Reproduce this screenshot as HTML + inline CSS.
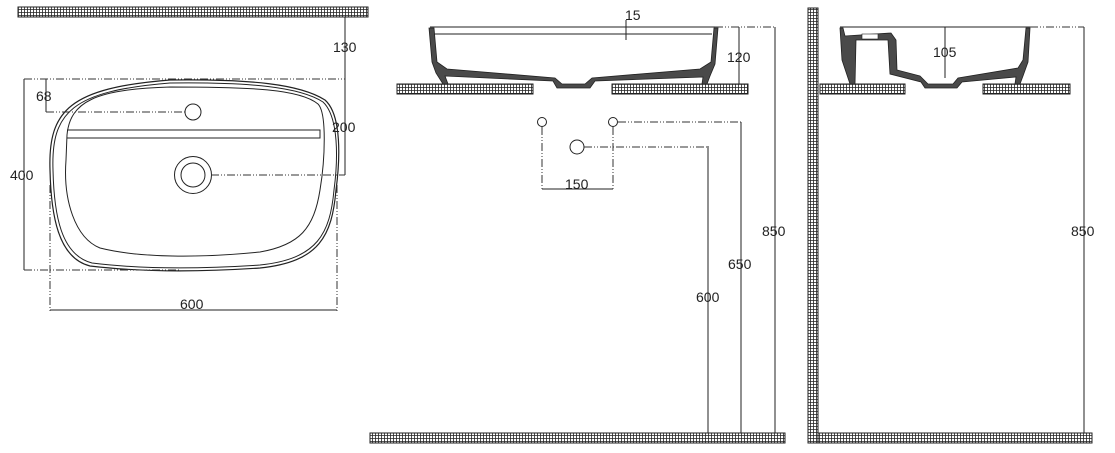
<!DOCTYPE html>
<html><head><meta charset="utf-8"><style>
html,body{margin:0;padding:0;background:#fff;width:1115px;height:453px;overflow:hidden}
text{font-family:"Liberation Sans","DejaVu Sans",sans-serif;font-size:14px;fill:#222}
</style></head><body>
<svg width="1115" height="453" viewBox="0 0 1115 453" xmlns="http://www.w3.org/2000/svg">
<defs>
<pattern id="h" width="3" height="3" patternUnits="userSpaceOnUse">
<rect width="3" height="3" fill="#fff"/><path d="M0 0H3M0 0V3" stroke="#222" stroke-width="1.6"/>
</pattern>
</defs>
<g stroke="#222" fill="url(#h)" stroke-width="1">
<rect x="18" y="7" width="350" height="10"/>
<rect x="397" y="84" width="136" height="10"/>
<rect x="612" y="84" width="136" height="10"/>
<rect x="370" y="433" width="415" height="10"/>
<rect x="808" y="8" width="10" height="435"/>
<rect x="818" y="433" width="274" height="10"/>
<rect x="820" y="84" width="85" height="10"/>
<rect x="983" y="84" width="87" height="10"/>
</g>
<g fill="none" stroke="#222" stroke-width="1">
<line x1="345" y1="17" x2="345" y2="175"/>
<line x1="24" y1="79" x2="24" y2="270"/>
<line x1="46" y1="79" x2="46" y2="112"/>
<line x1="50" y1="310" x2="337" y2="310"/>
<path d="M50 170 C48 110 70 88 170 80 C250 79 300 84 325 100 C342 115 340 160 336 190 C332 235 320 262 260 268 C200 272 140 272 90 266 C58 258 51 215 50 170Z" stroke-width="1.2"/>
<path d="M53 170 C51 112 72 91 170 83 C250 82 300 87 323 102 C339 117 338 160 334 190 C330 233 318 259 260 265 C200 269 140 269 92 263 C61 255 54 215 53 170Z"/>
<path d="M67 135 C70 102 95 89 170 87 C250 87 300 89 318 104 C327 113 325 160 320 190 C314 228 300 245 260 252 C200 258 140 258 100 248 C75 238 63 200 66 160Z"/>
<path d="M67 130H320V138H67"/>
<circle cx="193" cy="112" r="8"/>
<circle cx="193" cy="175" r="18.5"/>
<circle cx="193" cy="175" r="12"/>
<line x1="430" y1="27" x2="715" y2="27"/>
<line x1="434" y1="34" x2="712" y2="34"/>
<line x1="626" y1="20" x2="626" y2="40"/>
<line x1="739" y1="27" x2="739" y2="84"/>
<line x1="775" y1="27" x2="775" y2="433"/>
<line x1="741" y1="122" x2="741" y2="433"/>
<line x1="708" y1="146" x2="708" y2="433"/>
<line x1="542" y1="189" x2="613" y2="189"/>
<circle cx="542" cy="122" r="4.5"/>
<circle cx="613" cy="122" r="4.5"/>
<circle cx="577" cy="147" r="7"/>
<line x1="840" y1="27" x2="1030" y2="27"/>
<line x1="945" y1="27" x2="945" y2="78"/>
<line x1="1084" y1="27" x2="1084" y2="433"/>
</g>
<g fill="none" stroke="#333" stroke-width="1" stroke-dasharray="8,2,1,2,1,2">
<line x1="24" y1="79" x2="345" y2="79"/>
<line x1="46" y1="112" x2="185" y2="112"/>
<line x1="211" y1="175" x2="345" y2="175"/>
<line x1="24" y1="270" x2="180" y2="270"/>
<line x1="50" y1="185" x2="50" y2="312"/>
<line x1="337" y1="185" x2="337" y2="312"/>
<line x1="715" y1="27" x2="775" y2="27"/>
<line x1="618" y1="122" x2="741" y2="122"/>
<line x1="584" y1="147" x2="708" y2="147"/>
<line x1="542" y1="127" x2="542" y2="190"/>
<line x1="613" y1="127" x2="613" y2="190"/>
<line x1="1030" y1="27" x2="1084" y2="27"/>
</g>
<g fill="#4a4a4a" stroke="#222" stroke-width="0.8">
<polygon points="429,28 434,28 437,62 447,69 555,78 562,84 585,84 592,78 700,69 711,62 714,28 718,28 715,64 710,76 707,84 702,84 703,77 595,81 590,88 557,88 553,81 445,76 448,84 443,84 436,73 432,62"/>
<polygon points="840,28 843,28 845,36 891,33 896,40 897,70 920,76 928,84 953,84 958,78 1018,68 1023,60 1026,28 1030,28 1028,62 1023,76 1020,84 1015,84 1016,77 962,82 957,88 925,88 921,82 890,74 888,40 856,40 855,84 850,84 846,72 842,60"/>
</g>
<rect x="862" y="34" width="16" height="5" fill="#fff" stroke="#222" stroke-width="0.6"/>
<text x="333" y="52">130</text>
<text x="332" y="132">200</text>
<text x="36" y="101">68</text>
<text x="10" y="180">400</text>
<text x="180" y="309">600</text>
<text x="625" y="20">15</text>
<text x="727" y="62">120</text>
<text x="565" y="189">150</text>
<text x="762" y="236">850</text>
<text x="728" y="269">650</text>
<text x="696" y="302">600</text>
<text x="933" y="57">105</text>
<text x="1071" y="236">850</text>
</svg>
</body></html>
